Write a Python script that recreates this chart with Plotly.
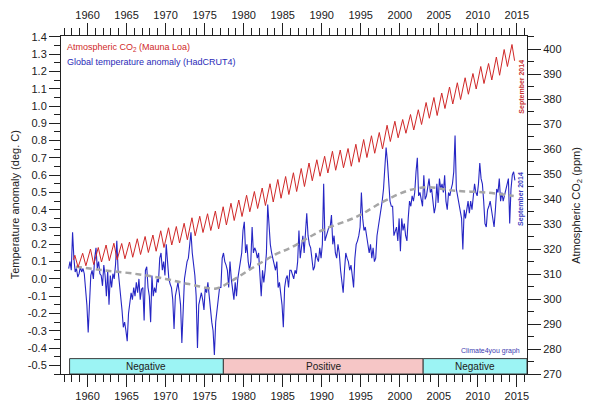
import plotly.graph_objects as go

# ---------------- data ----------------
# Mauna Loa CO2 (ppm): seasonal maxima (May) and minima (Oct)
co2_years = list(range(1958, 2015))
co2_may = [317.5, 318.3, 320.0, 320.6, 321.6, 322.3, 322.2, 322.8, 324.1, 325.0,
           325.6, 327.3, 328.5, 329.0, 330.3, 332.5, 333.1, 334.1, 335.2, 336.9,
           338.3, 339.6, 341.5, 343.0, 344.4, 346.1, 347.8, 349.0, 350.5, 352.2,
           354.4, 355.7, 357.1, 359.1, 359.6, 360.2, 361.9, 363.8, 365.3, 366.6,
           369.5, 371.1, 371.8, 373.8, 375.7, 378.6, 380.6, 382.4, 384.8, 386.5,
           388.5, 390.2, 393.0, 394.2, 396.8, 399.8, 401.8]
co2_oct = [312.7, 313.3, 313.8, 314.8, 315.3, 315.7, 316.1, 316.7, 317.8, 318.6,
           319.1, 320.6, 321.6, 322.4, 323.7, 325.3, 326.6, 327.4, 328.0, 329.6,
           331.4, 333.0, 334.9, 336.2, 337.4, 338.8, 340.3, 341.8, 343.0, 345.0,
           347.3, 349.1, 350.4, 351.5, 352.5, 353.1, 354.7, 356.6, 358.3, 360.0,
           363.0, 364.5, 366.3, 367.6, 369.8, 372.3, 373.4, 376.2, 378.0, 379.8,
           381.9, 384.0, 386.2, 387.6, 389.5, 393.0]
co2_first = (1958.2, 315.7)   # March 1958
co2_last = (2014.71, 395.3)   # September 2014

# HadCRUT4 global temperature anomaly (deg C), two-month steps from Jul 1957
temp_start = 1957.5
temp_step = 1 / 6
temp_anomaly = [
    0.06, 0.10, 0.05,                          # 1957 (H2)
    0.27, 0.12, 0.04, 0.06, 0.01, 0.03,        # 1958
    0.07, 0.04, 0.06, 0.03, -0.04, -0.15,      # 1959
    -0.31, -0.12, 0.02, 0.05, 0.00, 0.12,      # 1960
    0.18, 0.06, 0.10, 0.03, 0.02, -0.04,       # 1961
    0.08, 0.02, -0.10, 0.05, -0.15, 0.02,      # 1962
    -0.05, 0.03, 0.00, 0.08, 0.22, 0.05,       # 1963
    -0.02, -0.12, -0.18, -0.28, -0.25, -0.30,  # 1964
    -0.36, -0.20, -0.15, -0.08, -0.12, -0.05,  # 1965
    -0.10, -0.02, -0.08, 0.00, -0.12, -0.06,   # 1966
    -0.05, -0.24, 0.05, 0.07, -0.05, -0.10,    # 1967
    -0.25, 0.02, -0.10, -0.05, -0.08, 0.00,    # 1968
    -0.02, 0.12, 0.15, 0.05, 0.10, 0.02,       # 1969
    0.20, 0.08, 0.00, -0.03, -0.05, -0.12,     # 1970
    -0.29, -0.10, -0.05, -0.02, -0.08, -0.15,  # 1971
    -0.37, -0.12, 0.00, 0.05, 0.10, 0.12,      # 1972
    0.22, 0.27, 0.15, 0.08, 0.02, -0.10,       # 1973
    -0.40, -0.15, -0.12, -0.08, -0.12, -0.18,  # 1974
    -0.05, -0.08, -0.02, -0.10, -0.20, -0.25,  # 1975
    -0.30, -0.44, -0.25, -0.18, -0.15, -0.05,  # 1976
    -0.05, 0.12, 0.15, 0.10, 0.08, 0.05,       # 1977
    -0.05, 0.10, 0.00, -0.08, -0.12, -0.02,    # 1978
    -0.10, 0.00, 0.05, 0.12, 0.15, 0.28,       # 1979
    0.33, 0.15, 0.20, 0.10, 0.05, 0.10,        # 1980
    0.30, 0.15, 0.18, 0.16, 0.12, 0.15,        # 1981
    0.02, -0.10, 0.05, -0.02, 0.05, 0.15,      # 1982
    0.43, 0.28, 0.20, 0.15, 0.12, 0.08,        # 1983
    0.05, 0.10, -0.05, -0.02, -0.10, -0.15,    # 1984
    -0.28, -0.05, 0.00, 0.02, -0.05, 0.05,     # 1985
    0.05, 0.02, 0.00, 0.05, 0.03, 0.10,        # 1986
    0.28, 0.12, 0.20, 0.25, 0.15, 0.28,        # 1987
    0.38, 0.25, 0.20, 0.18, 0.10, 0.05,        # 1988
    0.07, 0.15, 0.12, 0.10, 0.18, 0.12,        # 1989
    0.20, 0.55, 0.22, 0.25, 0.28, 0.30,        # 1990
    0.30, 0.37, 0.20, 0.25, 0.15, 0.12,        # 1991
    0.20, 0.15, 0.05, -0.02, -0.08, 0.05,      # 1992
    0.15, 0.12, 0.10, 0.05, 0.08, 0.02,        # 1993
    -0.05, 0.12, 0.20, 0.22, 0.25, 0.30,       # 1994
    0.50, 0.35, 0.28, 0.30, 0.25, 0.18,        # 1995
    0.15, 0.20, 0.12, 0.18, 0.10, 0.12,        # 1996
    0.25, 0.30, 0.35, 0.38, 0.45, 0.52,        # 1997
    0.62, 0.76, 0.68, 0.58, 0.45, 0.42,        # 1998
    0.42, 0.25, 0.28, 0.30, 0.22, 0.35,        # 1999
    0.16, 0.35, 0.28, 0.32, 0.25, 0.22,        # 2000
    0.35, 0.45, 0.42, 0.48, 0.45, 0.50,        # 2001
    0.62, 0.70, 0.48, 0.50, 0.46, 0.42,        # 2002
    0.60, 0.46, 0.48, 0.52, 0.58, 0.50,        # 2003
    0.52, 0.45, 0.38, 0.42, 0.55, 0.44,        # 2004
    0.58, 0.52, 0.55, 0.50, 0.60, 0.45,        # 2005
    0.40, 0.50, 0.48, 0.52, 0.55, 0.62,        # 2006
    0.83, 0.52, 0.48, 0.45, 0.40, 0.35,        # 2007
    0.17, 0.40, 0.35, 0.42, 0.45, 0.38,        # 2008
    0.45, 0.40, 0.50, 0.55, 0.50, 0.48,        # 2009
    0.55, 0.67, 0.58, 0.55, 0.45, 0.32,        # 2010
    0.30, 0.40, 0.42, 0.45, 0.40, 0.35,        # 2011
    0.30, 0.40, 0.52, 0.50, 0.58, 0.45,        # 2012
    0.50, 0.45, 0.48, 0.52, 0.55, 0.58,        # 2013
    0.32, 0.52, 0.60, 0.62, 0.57,              # 2014 (to Sep)
]

# smoothed trend (grey dashed)
trend_years = [1958.5, 1962, 1966, 1970, 1973, 1976.5, 1978.5, 1981, 1984, 1986,
               1990, 1994.5, 1998, 2001, 2003.5, 2007, 2011, 2014.6]
trend_values = [0.07, 0.05, 0.03, 0.00, -0.03, -0.055, -0.01, 0.06, 0.14, 0.18,
                0.28, 0.36, 0.45, 0.51, 0.53, 0.51, 0.50, 0.48]

# PDO phases (boxes at bottom)
phase_start = [1957.7, 1977.4, 2003.0]
phase_end = [1977.4, 2003.0, 2016.3]
phase_label = ["Negative", "Positive", "Negative"]
phase_color = ["#9cf4f4", "#f6c6c6", "#9cf4f4"]

year_ticks = list(range(1960, 2020, 5))
temp_ticks = [round(-0.5 + 0.1 * i, 1) for i in range(20)]
temp_tick_text = [("%.1f" % v) for v in temp_ticks]
co2_ticks = list(range(270, 410, 10))

# ---------------- build ----------------
co2_x = [co2_first[0]]
co2_y = [co2_first[1]]
for i, yr in enumerate(co2_years):
    co2_x.append(yr + 0.375)
    co2_y.append(co2_may[i])
    if i < len(co2_oct):
        co2_x.append(yr + 0.79)
        co2_y.append(co2_oct[i])
co2_x.append(co2_last[0])
co2_y.append(co2_last[1])

temp_x = [temp_start + (i + 0.5) * temp_step for i in range(len(temp_anomaly))]

FONT = "Arial, Liberation Sans, sans-serif"
fig = go.Figure()

fig.add_trace(go.Scatter(x=temp_x, y=temp_anomaly, mode="lines",
                         line=dict(color="#2626c4", width=1.1), xaxis="x", yaxis="y"))
fig.add_trace(go.Scatter(x=trend_years, y=trend_values, mode="lines",
                         line=dict(color="#a6a6a6", width=2.5, dash="6px,4px", shape="spline"),
                         xaxis="x", yaxis="y"))
fig.add_trace(go.Scatter(x=co2_x, y=co2_y, mode="lines",
                         line=dict(color="#d02828", width=1.0), xaxis="x", yaxis="y2"))
# invisible trace to carry the top axis
fig.add_trace(go.Scatter(x=[year_ticks[0]], y=[temp_ticks[0]], mode="markers",
                         marker=dict(opacity=0), xaxis="x2", yaxis="y", hoverinfo="skip"))

shapes = []
annotations = []
for s, e, lab, col in zip(phase_start, phase_end, phase_label, phase_color):
    shapes.append(dict(type="rect", xref="x", yref="y", x0=s, x1=e, y0=-0.55, y1=-0.461,
                       fillcolor=col, line=dict(color="#3c3c3c", width=1), layer="below"))
    annotations.append(dict(x=(s + e) / 2, y=-0.507, xref="x", yref="y", text=lab,
                            showarrow=False, font=dict(size=10, color="#202020", family=FONT)))

annotations += [
    dict(x=0.008, y=0.965, xref="paper", yref="paper", xanchor="left", yanchor="middle",
         text="Atmospheric CO<sub>2</sub> (Mauna Loa)", showarrow=False,
         font=dict(size=9, color="#d02828", family=FONT)),
    dict(x=0.008, y=0.922, xref="paper", yref="paper", xanchor="left", yanchor="middle",
         text="Global temperature anomaly (HadCRUT4)", showarrow=False,
         font=dict(size=9, color="#2a2ab8", family=FONT)),
    dict(x=2015.55, y=385.0, xref="x", yref="y2", text="<b>September 2014</b>", textangle=-90,
         showarrow=False, font=dict(size=7, color="#c83030", family=FONT)),
    dict(x=2015.6, y=0.46, xref="x", yref="y", text="<b>September 2014</b>", textangle=-90,
         showarrow=False, font=dict(size=7, color="#3a3ac0", family=FONT)),
    dict(x=2015.6, y=-0.416, xref="x", yref="y", xanchor="right", text="Climate4you graph",
         showarrow=False, font=dict(size=7, color="#3a3ab0", family=FONT)),
    dict(x=-0.098, y=0.5, xref="paper", yref="paper", xanchor="center", yanchor="middle",
         text="Temperature anomaly (deg. C)", textangle=-90, showarrow=False, borderpad=0,
         font=dict(size=11, color="#202020", family=FONT)),
    dict(x=1.107, y=0.5, xref="paper", yref="paper", xanchor="center", yanchor="middle",
         text="Atmospheric CO<sub>2</sub> (ppm)", textangle=-90, showarrow=False,
         font=dict(size=11, color="#202020", family=FONT)),
]

xcommon = dict(range=[1956.6, 2016.3], tickmode="array", tickvals=year_ticks,
               ticks="outside", ticklen=12, tickcolor="#202020", showline=True,
               linecolor="#202020", linewidth=1, showgrid=False, zeroline=False,
               automargin=False,
               minor=dict(tickmode="linear", tick0=1960, dtick=1, ticks="outside",
                          ticklen=7, tickcolor="#202020"),
               tickfont=dict(size=11, color="#202020", family=FONT))

# the page body adds an 8 px margin, so the figure is 8 px smaller and offset
fig.update_layout(
    width=583, height=403,
    margin=dict(l=53, r=64, t=28, b=37, autoexpand=False),
    paper_bgcolor="white", plot_bgcolor="white",
    showlegend=False,
    xaxis=dict(**xcommon, side="bottom"),
    xaxis2=dict(**xcommon, side="top", overlaying="x"),
    yaxis=dict(range=[-0.55, 1.405], tickmode="array", tickvals=temp_ticks,
               ticktext=temp_tick_text, ticks="outside", ticklen=11, tickcolor="#202020",
               showline=True, linecolor="#202020", linewidth=1, showgrid=False,
               zeroline=False, automargin=False,
               minor=dict(tickmode="linear", tick0=0, dtick=0.05, ticks="outside",
                          ticklen=6, tickcolor="#202020"),
               tickfont=dict(size=11, color="#202020", family=FONT)),
    yaxis2=dict(range=[270, 405.2], overlaying="y", side="right", tickmode="array",
                tickvals=co2_ticks, ticks="outside", ticklen=13, tickcolor="#202020",
                showline=True, linecolor="#202020", linewidth=1, showgrid=False,
                zeroline=False, automargin=False,
                minor=dict(tickmode="linear", tick0=270, dtick=5, ticks="outside",
                           ticklen=6, tickcolor="#202020"),
                tickfont=dict(size=11, color="#202020", family=FONT)),
    shapes=shapes,
    annotations=annotations,
)

fig.write_html("out.html")
